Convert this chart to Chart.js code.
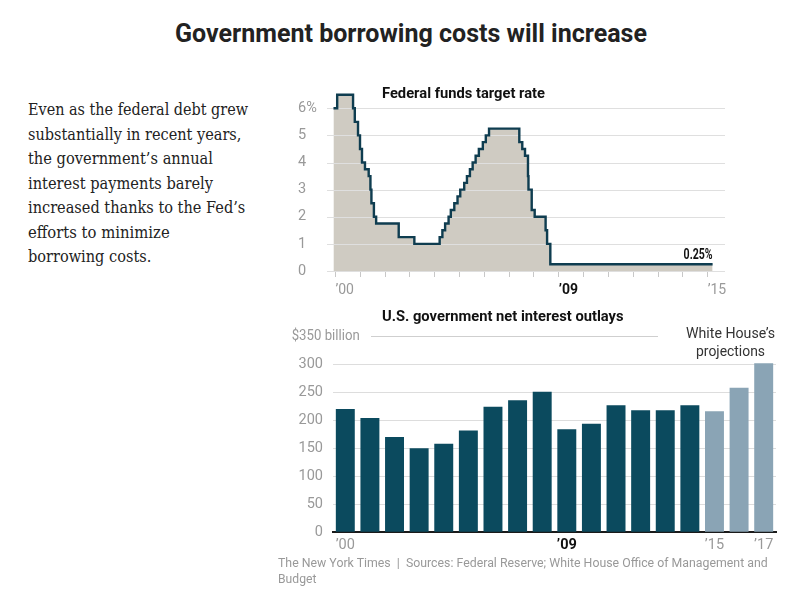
<!DOCTYPE html>
<html><head><meta charset="utf-8">
<script src="https://cdn.jsdelivr.net/npm/chart.js@4"></script>
<style>
html,body{margin:0;padding:0;background:#fff;}
body{width:800px;height:597px;position:relative;overflow:hidden;font-family:Roboto,'Liberation Sans',sans-serif;}
.t{position:absolute;white-space:nowrap;transform-origin:0 50%;display:inline-block;}
.serif{font-family:'DejaVu Serif','Liberation Serif',serif;font-size:16.5px;color:#222;}
canvas{position:absolute;}
</style></head><body>
<div class="t" data-x="175" data-y="34" data-w="472" style="font-size:25px;font-weight:700;color:#222;">Government borrowing costs will increase</div>

<div class="t serif" data-x="28.3" data-y="110" data-w="220">Even as the federal debt grew</div>
<div class="t serif" data-x="28.3" data-y="134.7" data-w="213.4">substantially in recent years,</div>
<div class="t serif" data-x="28.3" data-y="159.2" data-w="185">the government’s annual</div>
<div class="t serif" data-x="28.3" data-y="183.5" data-w="185">interest payments barely</div>
<div class="t serif" data-x="28.3" data-y="208.2" data-w="217.3">increased thanks to the Fed’s</div>
<div class="t serif" data-x="28.3" data-y="232.5" data-w="141.7">efforts to minimize</div>
<div class="t serif" data-x="28.3" data-y="256.8" data-w="123.3">borrowing costs.</div>

<canvas id="rate" width="460" height="220" style="left:280px;top:80px;width:460px;height:220px;"></canvas>
<canvas id="outlay" width="500" height="260" style="left:280px;top:300px;width:500px;height:260px;"></canvas>

<div class="t" data-x="382" data-y="93.3" data-w="163" style="font-size:14px;font-weight:700;color:#111;">Federal funds target rate</div>
<div class="t" data-x="381.7" data-y="316" data-w="241.6" style="font-size:14px;font-weight:700;color:#111;">U.S. government net interest outlays</div>
<div class="t" data-x="686" data-y="332.7" data-w="89" style="font-size:15px;color:#333;">White House’s</div>
<div class="t" data-x="696" data-y="350.7" data-w="69" style="font-size:15px;color:#333;">projections</div>
<div class="t" data-x="278.3" data-y="562.7" data-w="489.7" style="font-size:12.5px;color:#999;">The New York Times &nbsp;|&nbsp; Sources: Federal Reserve; White House Office of Management and</div>
<div class="t" data-x="278.3" data-y="578.3" data-w="38.4" style="font-size:12.5px;color:#999;">Budget</div>

<script>
// ---- Federal funds target rate (date as decimal year, rate in %) ----
const rateDates = [2000.22, 2000.37, 2001.01, 2001.08, 2001.21, 2001.29, 2001.37, 2001.49, 2001.64, 2001.71,
  2001.75, 2001.85, 2001.94, 2002.85, 2003.48, 2004.50, 2004.61, 2004.72, 2004.86, 2004.95,
  2005.09, 2005.22, 2005.33, 2005.49, 2005.60, 2005.72, 2005.83, 2005.95, 2006.08, 2006.24,
  2006.36, 2006.49, 2007.71, 2007.83, 2007.94, 2008.06, 2008.08, 2008.21, 2008.33, 2008.77,
  2008.83, 2008.96, 2015.50];
const rateValues = [6.00, 6.50, 6.00, 5.50, 5.00, 4.50, 4.00, 3.75, 3.50, 3.00,
  2.50, 2.00, 1.75, 1.25, 1.00, 1.25, 1.50, 1.75, 2.00, 2.25,
  2.50, 2.75, 3.00, 3.25, 3.50, 3.75, 4.00, 4.25, 4.50, 4.75,
  5.00, 5.25, 4.75, 4.50, 4.25, 3.50, 3.00, 2.25, 2.00, 1.50,
  1.00, 0.25, 0.25];
const rateYTicks = [0, 1, 2, 3, 4, 5, 6];
const rateTickYears = [2000, 2001, 2002, 2003, 2004, 2005, 2006, 2007, 2008, 2009, 2010, 2011, 2012, 2013, 2014, 2015];
const rateLabelYears = [2000, 2009, 2015];
const rateLabelTexts = ['’00', '’09', '’15'];
const rateEndLabel = '0.25%';

// ---- Net interest outlays, $ billion ----
const outlayYears = ['2000','2001','2002','2003','2004','2005','2006','2007','2008','2009','2010','2011','2012','2013','2014','2015','2016','2017'];
const outlayValues = [220, 204, 170, 150, 158, 182, 224, 236, 251, 184, 194, 227, 218, 218, 227, 216, 258, 302];
const outlayProjectedFrom = '2015';
const outlayYTicks = [0, 50, 100, 150, 200, 250, 300, 350];
const outlayLabelYears = ['2000', '2009', '2015', '2017'];
const outlayLabelTexts = ['’00', '’09', '’15', '’17'];
const outlayTopLabel = '$350 billion';

const FONT = 'Roboto';
const TICK_SHIFT = 0.3;

function fitTexts() {
  document.querySelectorAll('.t').forEach(el => {
    el.style.transform = 'none';
    const fs = parseFloat(getComputedStyle(el).fontSize);
    const lh = Math.round(fs * 1.2);
    el.style.lineHeight = lh + 'px';
    el.style.left = el.dataset.x + 'px';
    el.style.top = (+el.dataset.y - lh / 2) + 'px';
    const w = el.getBoundingClientRect().width;
    el.style.transform = 'scaleX(' + (+el.dataset.w / w) + ')';
  });
}
fitTexts();
if (document.fonts && document.fonts.ready) document.fonts.ready.then(fitTexts);

const ratePoints = rateDates.map((d, i) => ({x: d, y: rateValues[i]}));

const rateGridPlugin = {
  id: 'rateGrid',
  beforeDatasetDraw(chart, args) {
    if (args.index !== 0) return;
    const {ctx, chartArea: a, scales: {y}} = chart;
    ctx.save();
    ctx.strokeStyle = '#dfdfdf';
    ctx.lineWidth = 1;
    rateYTicks.forEach(v => {
      const py = Math.round(y.getPixelForValue(v)) + 0.5;
      ctx.beginPath(); ctx.moveTo(a.left - 1, py); ctx.lineTo(a.right, py); ctx.stroke();
    });
    ctx.restore();
  },
  afterDatasetsDraw(chart) {
    const {ctx, scales: {x, y}} = chart;
    const n = rateDates.length - 1;
    ctx.save();
    ctx.font = 'bold 14px ' + FONT;
    ctx.fillStyle = '#111';
    ctx.textAlign = 'right';
    ctx.textBaseline = 'alphabetic';
    ctx.fillText(rateEndLabel, x.getPixelForValue(rateDates[n]), y.getPixelForValue(rateValues[n]) - 5, 29);
    ctx.restore();
  }
};

function rateYear(c) { return c && c.tick ? Math.round(c.tick.value - TICK_SHIFT) : null; }
function isBarBold(c) { return c && c.index !== undefined && outlayYears[c.index] === '2009'; }

new Chart(document.getElementById('rate'), {
  type: 'line',
  data: {datasets: [
    {data: ratePoints, stepped: true, borderColor: '#0f3d50', borderWidth: 2.4, pointRadius: 0, fill: false},
    {data: ratePoints, stepped: true, borderWidth: 0, borderColor: 'rgba(0,0,0,0)', backgroundColor: '#cfcbc2', pointRadius: 0, fill: 'origin'}
  ]},
  options: {
    responsive: false, animation: false, events: [],
    layout: {padding: {left: 18, right: 15, top: 12, bottom: 0}},
    plugins: {legend: {display: false}, tooltip: {enabled: false}},
    scales: {
      x: {
        type: 'linear', min: 2000, max: 2016,
        afterBuildTicks(s) { s.ticks = rateTickYears.map(v => ({value: v + TICK_SHIFT})); },
        afterFit(s) { s.height = 29; },
        grid: {drawOnChartArea: false, drawTicks: true, tickLength: 6, color: '#c8c8c8'},
        border: {display: false},
        ticks: {
          align: 'start', autoSkip: false, maxRotation: 0, padding: 5,
          color: c => rateYear(c) === 2009 ? '#111' : '#999',
          font: c => ({family: FONT, size: 14, weight: rateYear(c) === 2009 ? 'bold' : 'normal'}),
          callback: v => { const i = rateLabelYears.indexOf(Math.round(v - TICK_SHIFT)); return i >= 0 ? rateLabelTexts[i] : ''; }
        }
      },
      y: {
        min: 0, max: 6.6,
        afterBuildTicks(s) { s.ticks = rateYTicks.map(v => ({value: v})); },
        afterFit(s) { s.width = 30; },
        grid: {display: false, drawTicks: false},
        border: {display: false},
        ticks: {crossAlign: 'far', padding: 0, color: '#999', font: {family: FONT, size: 14.5},
          callback: v => v === rateYTicks[rateYTicks.length - 1] ? v + '%' : String(v)}
      }
    }
  },
  plugins: [rateGridPlugin]
});

const outlayTopPlugin = {
  id: 'outlayTop',
  afterDraw(chart) {
    const {ctx, scales: {y}} = chart;
    const top = outlayYTicks[outlayYTicks.length - 1];
    const py = Math.round(y.getPixelForValue(top)) + 0.5;
    ctx.save();
    ctx.font = '14.5px ' + FONT;
    ctx.fillStyle = '#999';
    ctx.textAlign = 'left';
    ctx.textBaseline = 'middle';
    ctx.fillText(outlayTopLabel, 11.7, py, 68);
    ctx.strokeStyle = '#cfcfcf';
    ctx.lineWidth = 1;
    ctx.beginPath(); ctx.moveTo(91, py); ctx.lineTo(378, py); ctx.stroke();
    ctx.restore();
  }
};

const projIdx = outlayYears.indexOf(outlayProjectedFrom);
new Chart(document.getElementById('outlay'), {
  type: 'bar',
  data: {labels: outlayYears, datasets: [{
    data: outlayValues,
    backgroundColor: outlayYears.map((y, i) => i >= projIdx ? '#8aa4b5' : '#0b4a5e'),
    categoryPercentage: 1, barPercentage: 0.77, borderWidth: 0
  }]},
  options: {
    responsive: false, animation: false, events: [],
    layout: {padding: {left: 0, right: 4, top: 36.3, bottom: 0}},
    plugins: {legend: {display: false}, tooltip: {enabled: false}},
    scales: {
      x: {
        afterFit(s) { s.height = 27.7; },
        grid: {display: false, drawTicks: false},
        border: {display: true, color: '#1a1a1a', width: 2},
        ticks: {
          autoSkip: false, maxRotation: 0, padding: 4,
          color: c => isBarBold(c) ? '#111' : '#999',
          font: c => ({family: FONT, size: 14.5, weight: isBarBold(c) ? 'bold' : 'normal'}),
          callback: (v, i) => { const k = outlayLabelYears.indexOf(outlayYears[i]); return k >= 0 ? outlayLabelTexts[k] : ''; }
        }
      },
      y: {
        min: 0, max: 350,
        afterBuildTicks(s) { s.ticks = outlayYTicks.map(v => ({value: v})); },
        afterFit(s) { s.width = 53; },
        grid: {drawTicks: false, lineWidth: 1,
          color: c => (c.tick && (c.tick.value === 350 || c.tick.value === 0)) ? 'rgba(0,0,0,0)' : '#dddddd'},
        border: {display: false},
        ticks: {padding: 10, color: '#999', font: {family: FONT, size: 14.5},
          callback: v => v === 350 ? '' : String(v)}
      }
    }
  },
  plugins: [outlayTopPlugin]
});
</script>
</body></html>
